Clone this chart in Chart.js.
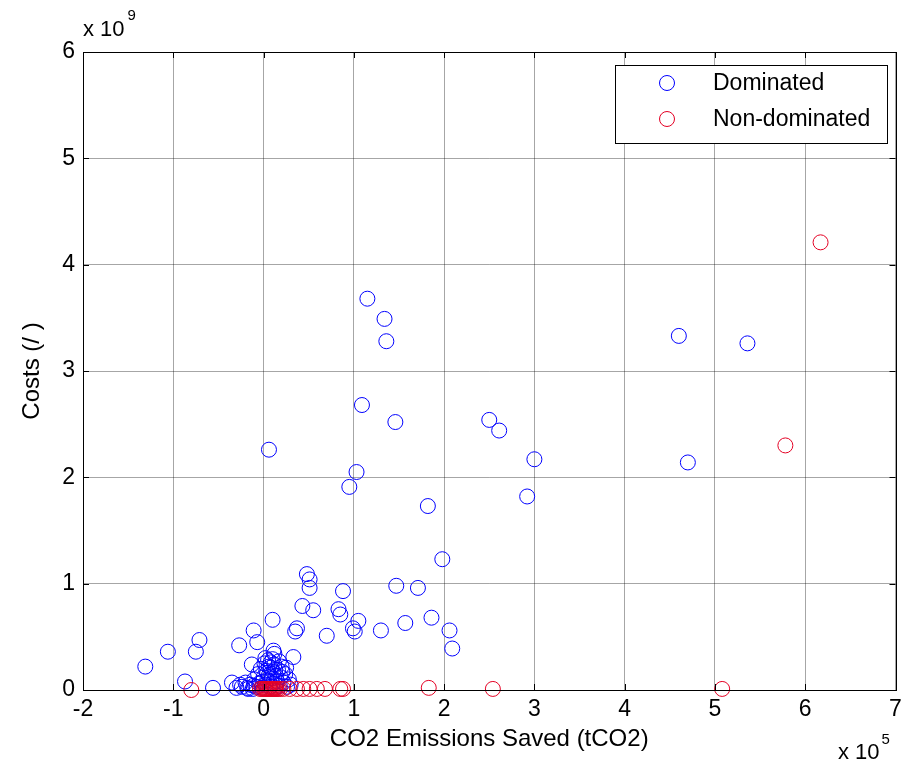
<!DOCTYPE html>
<html><head><meta charset="utf-8">
<script src="https://cdn.jsdelivr.net/npm/chart.js@4/dist/chart.umd.min.js"></script>
<style>html,body{margin:0;padding:0;background:#fff}</style>
</head><body>
<canvas id="c" width="904" height="765"></canvas>
<script>
// Units: x in 1e5 tCO2, y in 1e9 cost units
const xTickLabels = ['-2','-1','0','1','2','3','4','5','6','7'];
const yTickLabels = ['0','1','2','3','4','5','6'];
const seriesNames = ['Dominated', 'Non-dominated'];

const dominatedX = [
  1.15, 1.34, 1.36, 1.09, 1.46, 0.06, 1.03, 0.95,
  2.50, 2.61, 3.00, 2.92, 1.82, 1.98,
  4.60, 5.36, 4.70,
  0.48, 0.51, 0.51, 0.88, 1.47, 1.71, 0.43, 0.55, 0.83, 0.85, 1.05, 0.99, 1.01,
  1.30, 1.57, 1.86, 2.06, 2.09, 0.70, 0.37, 0.35, 0.33,
  -1.31, -1.06, -0.71, -0.75, -0.87, -0.56, -0.35, -0.27, -0.11, -0.07, 0.10,
  0.11, 0.12, -0.13, -0.26, -0.11,
  -0.18, -0.15, -0.12, -0.10, -0.08, -0.06, -0.05, -0.03, -0.02, 0.00, 0.01, 0.02,
  0.03, 0.04, 0.05, 0.06, 0.07, 0.08, 0.09, 0.10, 0.11, 0.12, 0.13, 0.14, 0.15,
  0.16, 0.18, 0.19, 0.20, 0.22, 0.24, 0.26, 0.28, 0.30, -0.01, 0.02, 0.10, 0.06,
  -0.20, -0.24, -0.30, -0.17, 0.04, 0.08, 0.13, 0.17, 0.21, 0.25
];
const dominatedY = [
  3.68, 3.49, 3.28, 2.68, 2.52, 2.26, 2.05, 1.91,
  2.54, 2.44, 2.17, 1.82, 1.73, 1.23,
  3.33, 3.26, 2.14,
  1.09, 1.04, 0.96, 0.93, 0.98, 0.96, 0.79, 0.75, 0.76, 0.71, 0.65, 0.58, 0.55,
  0.56, 0.63, 0.68, 0.56, 0.39, 0.51, 0.58, 0.55, 0.31,
  0.22, 0.36, 0.47, 0.36, 0.08, 0.02, 0.07, 0.42, 0.56, 0.45, 0.66,
  0.37, 0.34, 0.24, 0.05, 0.04,
  0.02, 0.05, 0.01, 0.10, 0.03, 0.15, 0.06, 0.20, 0.02, 0.12, 0.25, 0.05,
  0.18, 0.09, 0.28, 0.14, 0.03, 0.21, 0.11, 0.06, 0.17, 0.24, 0.02, 0.13, 0.08,
  0.19, 0.04, 0.12, 0.22, 0.07, 0.15, 0.03, 0.10, 0.05, 0.08, 0.30, 0.29, 0.22,
  0.07, 0.03, 0.02, 0.01, 0.16, 0.26, 0.19, 0.27, 0.17, 0.21
];
const nonDominatedX = [
  -0.80, -0.04, -0.02, 0.00, 0.01, 0.02, 0.03, 0.04, 0.05, 0.06, 0.07, 0.08,
  0.09, 0.10, 0.11, 0.12, 0.13, 0.14, 0.16, 0.18,
  0.22, 0.29, 0.37, 0.44, 0.51, 0.59, 0.68, 0.85, 0.88,
  1.83, 2.54, 5.08, 5.78, 6.17
];
const nonDominatedY = [
  0.00, 0.01, 0.01, 0.01, 0.01, 0.01, 0.01, 0.01, 0.01, 0.01, 0.01, 0.01,
  0.01, 0.01, 0.01, 0.01, 0.01, 0.01, 0.01, 0.01,
  0.01, 0.01, 0.01, 0.01, 0.01, 0.01, 0.01, 0.01, 0.01,
  0.02, 0.01, 0.01, 2.30, 4.21
];

const FONT = "'Liberation Sans', Arial, Helvetica, sans-serif";
const BLUE = 'rgb(0,0,255)';
const RED = 'rgb(228,0,36)';

const toPts = (xs, ys) => xs.map((x, i) => ({x: x, y: ys[i]}));

const matlabFrame = {
  id: 'matlabFrame',
  afterDatasetsDraw(chart) {
    const {ctx, chartArea: a, scales: {x, y}} = chart;
    ctx.save();
    ctx.strokeStyle = '#000';
    ctx.lineWidth = 1;
    ctx.beginPath();
    x.ticks.forEach(t => {
      const px = Math.round(x.getPixelForValue(t.value)) + 0.5;
      ctx.moveTo(px, a.bottom); ctx.lineTo(px, a.bottom - 6);
      ctx.moveTo(px, a.top); ctx.lineTo(px, a.top + 6);
    });
    y.ticks.forEach(t => {
      const py = Math.round(y.getPixelForValue(t.value)) + 0.5;
      ctx.moveTo(a.left, py); ctx.lineTo(a.left + 6, py);
      ctx.moveTo(a.right, py); ctx.lineTo(a.right - 6, py);
    });
    ctx.stroke();
    ctx.strokeRect(Math.round(a.left) + 0.5, Math.round(a.top) + 0.5,
                   Math.round(a.right - a.left), Math.round(a.bottom - a.top));
    ctx.fillStyle = '#000';
    ctx.textBaseline = 'alphabetic';
    ctx.textAlign = 'left';
    ctx.font = '22px ' + FONT;
    ctx.fillText('x 10', a.left, 36);
    const w1 = ctx.measureText('x 10').width;
    ctx.font = '15px ' + FONT;
    ctx.fillText('9', a.left + w1 + 3, 20);
    ctx.font = '22px ' + FONT;
    ctx.fillText('x 10', 838, 759);
    const w2 = ctx.measureText('x 10').width;
    ctx.font = '15px ' + FONT;
    ctx.fillText('5', 838 + w2 + 2, 744);
    const lx = 615, ly = 65, lw = 272, lh = 78;
    ctx.fillStyle = '#fff';
    ctx.fillRect(lx, ly, lw, lh);
    ctx.strokeRect(lx + 0.5, ly + 0.5, lw, lh);
    const items = [[seriesNames[0], BLUE, 83], [seriesNames[1], RED, 119]];
    ctx.font = '23px ' + FONT;
    ctx.textBaseline = 'middle';
    items.forEach(([label, col, cy]) => {
      ctx.beginPath();
      ctx.strokeStyle = col;
      ctx.arc(667, cy, 7.5, 0, Math.PI * 2);
      ctx.stroke();
      ctx.fillStyle = '#000';
      ctx.fillText(label, 713, cy + 1);
    });
    ctx.restore();
  }
};

new Chart(document.getElementById('c'), {
  type: 'scatter',
  data: {
    datasets: [
      { label: seriesNames[0], data: toPts(dominatedX, dominatedY),
        pointStyle: 'circle', pointRadius: 7.5, pointHoverRadius: 7.5, pointBorderWidth: 1,
        borderColor: BLUE, backgroundColor: 'rgba(0,0,0,0)', clip: false, order: 2 },
      { label: seriesNames[1], data: toPts(nonDominatedX, nonDominatedY),
        pointStyle: 'circle', pointRadius: 7.5, pointHoverRadius: 7.5, pointBorderWidth: 1,
        borderColor: RED, backgroundColor: 'rgba(0,0,0,0)', clip: false, order: 1 }
    ]
  },
  options: {
    responsive: false,
    animation: false,
    devicePixelRatio: 1,
    layout: { padding: { top: 52, right: 8, left: 0, bottom: 0 } },
    plugins: { legend: { display: false }, tooltip: { enabled: false }, title: { display: false } },
    scales: {
      x: {
        type: 'linear', min: -2, max: 7,
        afterFit: s => { s.height = 75; s.paddingRight = 0; s.paddingLeft = 0; },
        afterBuildTicks: s => { s.ticks = xTickLabels.map(v => ({value: Number(v)})); },
        ticks: { stepSize: 1, padding: 6, color: '#000', font: { family: FONT, size: 23 },
                 callback: (v) => xTickLabels[xTickLabels.indexOf(String(v))] ?? '' , maxRotation: 0 },
        grid: { color: 'rgba(0,0,0,0.35)', lineWidth: 1, drawTicks: false },
        border: { display: false },
        title: { display: true, text: 'CO2 Emissions Saved (tCO2)', color: '#000',
                 font: { family: FONT, size: 24 }, padding: { top: 0, bottom: 11 } }
      },
      y: {
        type: 'linear', min: 0, max: 6,
        afterFit: s => { s.width = 83; s.paddingTop = 0; s.paddingBottom = 0; },
        afterBuildTicks: s => { s.ticks = yTickLabels.map(v => ({value: Number(v)})); },
        ticks: { stepSize: 1, padding: 8, color: '#000', font: { family: FONT, size: 23 },
                 callback: (v) => yTickLabels[yTickLabels.indexOf(String(v))] ?? '' },
        grid: { color: 'rgba(0,0,0,0.35)', lineWidth: 1, drawTicks: false },
        border: { display: false },
        title: { display: true, text: 'Costs (/ )', color: '#000',
                 font: { family: FONT, size: 24 }, padding: { top: 18, bottom: 0 } }
      }
    }
  },
  plugins: [matlabFrame]
});
</script>
</body></html>
